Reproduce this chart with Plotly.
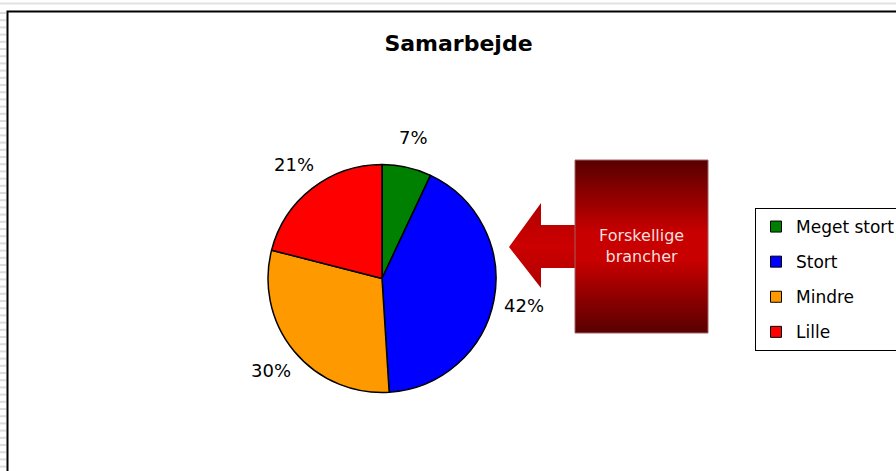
import numpy as np
import plotly.graph_objects as go

# data
labels = ["Meget stort", "Stort", "Mindre", "Lille"]
values = [7, 42, 30, 21]
colors = ["#008000", "#0000ff", "#ff9900", "#ff0000"]
title = "Samarbejde"
callout = "Forskellige<br>brancher"

W, H = 896, 471
# pie placement in pixels (centre and radius)
cx, cy, r = 382, 278.5, 114

fig = go.Figure()

# pie (legend is drawn by the dummy traces below so the spacing can be set)
fig.add_trace(go.Pie(labels=labels, values=values, sort=False, direction="clockwise",
                     rotation=0, marker=dict(colors=colors, line=dict(color="black", width=1.5)),
                     textinfo="none", showlegend=False, hoverinfo="label+percent",
                     domain=dict(x=[(cx-r)/W, (cx+r)/W], y=[1-(cy+r)/H, 1-(cy-r)/H])))

# percentage labels, placed at the middle angle of each slice, a bit outside the rim
vals = np.array(values, dtype=float)
frac = vals / vals.sum()
mid = (np.cumsum(frac) - frac / 2) * 2 * np.pi   # clockwise from 12 o'clock
lr = 1.265 * r
for f, a in zip(frac, mid):
    fig.add_annotation(x=cx + lr*np.sin(a), y=cy - lr*np.cos(a), xref="x", yref="y",
                       text=f"{f:.0%}", showarrow=False,
                       font=dict(family="DejaVu Sans", size=18, color="black"))

for lab, col in zip(labels, colors):
    fig.add_trace(go.Scatter(x=[None], y=[None], mode="markers", name=lab, legendgroup=lab,
                             marker=dict(symbol="square", size=11, color=col,
                                         line=dict(color="black", width=1))))

# callout arrow + box (pixel coords on a hidden overlay axis)
fig.add_trace(go.Scatter(x=[575, 541, 541, 509, 541, 541, 575, 575],
                         y=[225, 225, 203, 247, 288, 268, 268, 225],
                         mode="lines", line=dict(width=0), fill="toself",
                         fillgradient=dict(type="vertical",
                                           colorscale=[[0, "#b00000"], [0.5, "#cc0000"], [1, "#b00000"]]),
                         showlegend=False, hoverinfo="skip"))
fig.add_trace(go.Scatter(x=[575, 708, 708, 575, 575], y=[160, 160, 333, 333, 160],
                         mode="lines", line=dict(width=1, color="#a06060"), fill="toself",
                         fillgradient=dict(type="vertical",
                                           colorscale=[[0, "#580000"], [0.25, "#9a0000"], [0.42, "#c80000"],
                                                       [0.58, "#c80000"], [0.75, "#9a0000"], [1, "#580000"]]),
                         showlegend=False, hoverinfo="skip"))

fig.add_annotation(x=641.5, y=246, xref="x", yref="y", text=callout, showarrow=False,
                   font=dict(family="DejaVu Sans", size=16, color="#f6dede"))

# spreadsheet background strips and the chart frame
shapes = [dict(type="line", xref="x", yref="y", x0=0, x1=W, y0=3.5, y1=3.5,
               line=dict(color="#e2e2e2", width=2))]
yy = 13
while yy < H:
    shapes.append(dict(type="line", xref="x", yref="y", x0=0, x1=6, y0=yy, y1=yy,
                       line=dict(color="#dcdcdc", width=2)))
    yy += 7.2
shapes.append(dict(type="rect", xref="x", yref="y", x0=7.5, x1=W+10, y0=11.5, y1=H+10,
                   line=dict(color="black", width=2)))

fig.update_layout(
    width=W, height=H,
    margin=dict(l=0, r=0, t=0, b=0, autoexpand=False),
    paper_bgcolor="white", plot_bgcolor="white",
    xaxis=dict(range=[0, W], visible=False, fixedrange=True),
    yaxis=dict(range=[H, 0], visible=False, fixedrange=True),
    shapes=shapes,
    title=dict(text=title, x=458.5/W, xanchor="center", y=1-43/H, yanchor="middle",
               font=dict(family="DejaVu Sans", size=22, color="black", weight="bold")),
    legend=dict(x=755/W, xanchor="left", y=1-208/H, yanchor="top",
                bordercolor="black", borderwidth=1, bgcolor="white",
                tracegroupgap=10,
                font=dict(family="DejaVu Sans", size=17, color="black")),
)

fig.write_html("out.html", config={"displayModeBar": False},
               post_script="document.body.style.margin='0';")
